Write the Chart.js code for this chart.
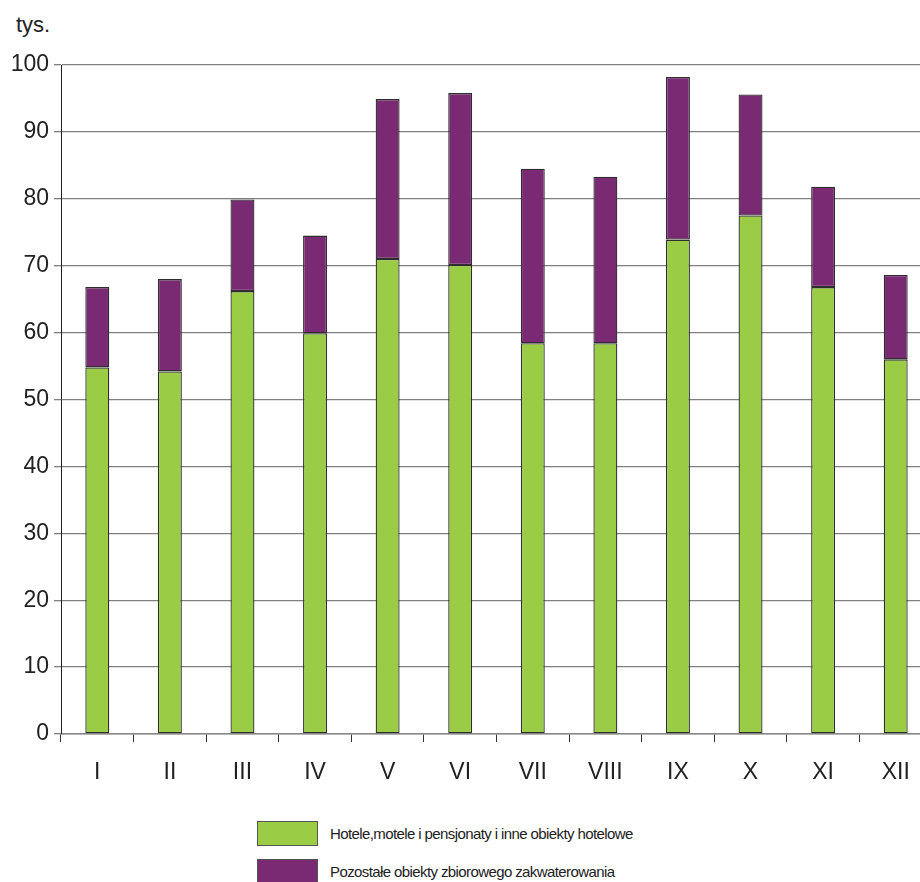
<!DOCTYPE html>
<html>
<head>
<meta charset="utf-8">
<script src="https://cdn.jsdelivr.net/npm/chart.js@4/dist/chart.umd.min.js"></script>
<style>
    html, body { margin: 0; padding: 0; background: #fff; overflow: hidden; width: 920px; height: 882px; }
    body { position: relative; font-family: "Liberation Sans", Arial, sans-serif; color: #222; }
    .chart-wrap { position: absolute; left: 0; top: 0; width: 932px; height: 800px; }
    .unit_label { position: absolute; left: 16px; top: 12px; font-size: 22px; }
    #legend ul { list-style: none; margin: 0; padding: 0; }
    .legends_li { position: absolute; left: 257px; display: flex; align-items: center; }
    .legend_box { display: inline-block; width: 61px; height: 25px; border: 1px solid #555; box-sizing: border-box; }
    .legend_text { margin: 0 0 0 12px; font-size: 15px; letter-spacing: -0.6px; color: #222; }
</style>
</head>
<body>
<div class="unit_label">tys.</div>
<div class="chart-wrap"><canvas id="stays_chart"></canvas></div>
<div id="legend"></div>
<script>
// months (roman numerals) and the two stacked series, in thousands
var months = ["I", "II", "III", "IV", "V", "VI", "VII", "VIII", "IX", "X", "XI", "XII"];
var hotelValues = [54.8, 54.2, 66.2, 59.9, 71.0, 70.1, 58.4, 58.4, 73.9, 77.5, 66.8, 56.0];
var otherValues = [12.0, 13.8, 13.7, 14.6, 23.9, 25.7, 26.1, 24.9, 24.3, 18.1, 15.0, 12.6];
var yTicks = [0, 10, 20, 30, 40, 50, 60, 70, 80, 90, 100];
var seriesNames = ["Hotele,motele i pensjonaty i inne obiekty hotelowe", "Pozostałe obiekty zbiorowego zakwaterowania"];

var green = "#9BCC46",
    purple = "#7A2A72",
    legendTops = [821, 859];

var htmlLegendPlugin = {
    id: "htmlLegend",
    afterUpdate(chart, args, options) {
        var container = document.getElementById(options.containerID);
        var ul = container.querySelector("ul");
        if (!ul) {
            ul = document.createElement("ul");
            container.appendChild(ul);
        }
        while (ul.firstChild) ul.firstChild.remove();
        chart.options.plugins.legend.labels.generateLabels(chart).forEach(function (item, i) {
            var li = document.createElement("li"),
                box = document.createElement("span"),
                txt = document.createElement("p");
            li.className = "legends_li";
            li.style.top = legendTops[i] + "px";
            box.className = "legend_box";
            box.style.background = item.fillStyle;
            txt.className = "legend_text";
            txt.appendChild(document.createTextNode(item.text));
            li.appendChild(box);
            li.appendChild(txt);
            ul.appendChild(li);
        });
    },
};

var ctx = document.getElementById("stays_chart");
var myChart = new Chart(ctx, {
    type: "bar",
    data: {
        labels: months,
        datasets: [
            { label: seriesNames[0], data: hotelValues, backgroundColor: green, borderColor: "#2e2e2e", borderWidth: 1.3, borderSkipped: false },
            { label: seriesNames[1], data: otherValues, backgroundColor: purple, borderColor: "#2e2e2e", borderWidth: 1.3, borderSkipped: false },
        ],
    },
    options: {
        responsive: true,
        maintainAspectRatio: false,
        animation: false,
        layout: { padding: { top: 65, left: 0, right: 0, bottom: 0 } },
        datasets: { bar: { barPercentage: 0.33, categoryPercentage: 1 } },
        scales: {
            x: {
                stacked: true,
                afterFit: function (scale) { scale.height = 66; },
                grid: { offset: true, drawOnChartArea: false, drawTicks: true, tickLength: 8, color: "#333" },
                border: { display: true, color: "#888", width: 1.5 },
                ticks: { color: "#222", font: { family: "Liberation Sans", size: 23 }, padding: 17 },
            },
            y: {
                stacked: true,
                min: 0,
                max: 100,
                afterFit: function (scale) { scale.width = 61; },
                afterBuildTicks: function (scale) { scale.ticks = yTicks.map(function (v) { return { value: v }; }); },
                grid: { color: "#808080", lineWidth: 1.3, tickLength: 7, drawTicks: true },
                border: { display: true, color: "#222", width: 1 },
                ticks: { color: "#222", font: { family: "Liberation Sans", size: 23 }, padding: 5 },
            },
        },
        plugins: {
            legend: { display: false },
            tooltip: { enabled: false },
            htmlLegend: { containerID: "legend" },
        },
    },
    plugins: [htmlLegendPlugin],
});
</script>
</body>
</html>
